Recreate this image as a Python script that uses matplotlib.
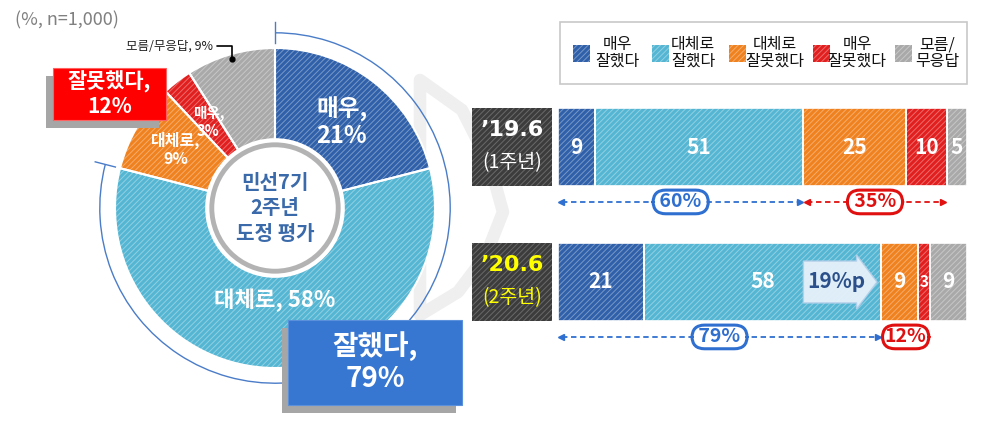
import matplotlib.pyplot as plt
import numpy as np
from matplotlib.patches import Polygon, Circle, Arc, Rectangle
from matplotlib.colors import to_rgb

plt.rcParams['font.family'] = ['Noto Sans CJK KR', 'DejaVu Sans']
plt.rcParams['hatch.linewidth'] = 0.7

# ---- data ----
categories = ['매우\n잘했다', '대체로\n잘했다', '대체로\n잘못했다', '매우\n잘못했다', '모름/\n무응답']
colors = ['#2f60a9', '#55b6d3', '#f0811f', '#e21f1f', '#a9a9a9']
period_years = ['\u201919.6', '\u201920.6']
period_subs = ['(1주년)', '(2주년)']
bar_2019 = [9, 51, 25, 10, 5]
bar_2020 = [21, 58, 9, 3, 9]
pie_values = bar_2020
pie_labels = ['매우,\n21%', '대체로, 58%', '대체로,\n9%', '매우,\n3%', '모름/무응답, 9%']
good_total = sum(pie_values[:2])
bad_total = sum(pie_values[2:4])


def tint(c, k=0.35):
    r, g, b = to_rgb(c)
    return (r + (1 - r) * k, g + (1 - g) * k, b + (1 - b) * k)


fig = plt.figure(figsize=(10, 4.24), dpi=100)

# background layer (pixel coords)
bg = fig.add_axes([0, 0, 1, 1])
bg.set_xlim(0, 1000)
bg.set_ylim(424, 0)
bg.axis('off')
bg.add_patch(Polygon([(420, 80), (462, 110), (490, 165), (503, 212), (486, 255),
                      (458, 292), (420, 315)], closed=True, facecolor='white',
                     edgecolor='#efefef', lw=9, joinstyle='round'))
bg.text(15, 20, '(%, n=1,000)', fontsize=13, color='#808080', va='center', ha='left')

# ---- donut ----
pax = fig.add_axes([0.075, 16 / 424, 0.4, 400 / 424])
wedges, _ = pax.pie(pie_values, colors=colors, startangle=90, counterclock=False,
                    radius=1, wedgeprops=dict(width=0.57, linewidth=0))
for w, c in zip(wedges, colors):
    w.set_edgecolor(tint(c))
    w.set_hatch('//////')
    w.set_linewidth(0)
pax.pie(pie_values, startangle=90, counterclock=False, radius=1,
        wedgeprops=dict(width=0.57, fill=False, edgecolor='white', linewidth=1.5))
pax.set_xlim(-1.25, 1.25)
pax.set_ylim(-1.25, 1.25)
pax.set_aspect('equal')
pax.axis('off')

pax.add_patch(Circle((0, 0), 0.43, facecolor='white', edgecolor='none', zorder=3))
pax.add_patch(Circle((0, 0), 0.395, facecolor='white', edgecolor='#b3b3b3', lw=3.5, zorder=4))
pax.text(0, 0, '민선7기\n2주년\n도정 평가', ha='center', va='center', fontsize=14.5,
         fontweight='bold', color='#3b6aaa', linespacing=1.25, zorder=5)

# outer bracket arc around the "good" share
arc_end = 90 - good_total / 100 * 360
pax.add_patch(Arc((0, 0), 2.19, 2.19, theta1=arc_end, theta2=90, color='#4a7cc8',
                  lw=1.0, clip_on=False))
for ang in (90, arc_end):
    a = np.radians(ang)
    pax.plot([1.03 * np.cos(a), 1.16 * np.cos(a)], [1.03 * np.sin(a), 1.16 * np.sin(a)],
             color='#4a7cc8', lw=1.0, clip_on=False)

cum = np.cumsum([0] + list(pie_values))
label_r = [0.68, 0.58, 0.72, 0.68]
label_fs = [17, 16, 11.5, 10.5]
for i in range(4):
    mid = np.radians(90 - (cum[i] + pie_values[i] / 2) / 100 * 360)
    pax.text(label_r[i] * np.cos(mid), label_r[i] * np.sin(mid), pie_labels[i],
             ha='center', va='center', fontsize=label_fs[i], fontweight='bold',
             color='white', linespacing=1.1, zorder=5)
mid = np.radians(90 - (cum[4] + pie_values[4] / 2) / 100 * 360)
px, py = 0.97 * np.cos(mid), 0.97 * np.sin(mid)
pax.plot([px], [py], marker='o', ms=3.5, color='black', zorder=6)
pax.annotate(pie_labels[4], xy=(px, py), xytext=(px - 0.12, py + 0.08),
             ha='right', va='center', fontsize=9, color='#222222',
             arrowprops=dict(arrowstyle='-', lw=1.2, color='black', shrinkA=1, shrinkB=0,
                             connectionstyle='angle,angleA=0,angleB=90,rad=0'))

# ---- stacked bars ----
bax = fig.add_axes([0.558, (424 - 321) / 424, 0.409, 213 / 424])
rows = [bar_2019, bar_2020]
h = 78 / 135
for r, vals in enumerate(rows):
    left = np.cumsum([0] + vals[:-1])
    bars = bax.barh([r] * len(vals), vals, left=left, height=h, color=colors, linewidth=0)
    for b, c in zip(bars, colors):
        b.set_edgecolor(tint(c))
        b.set_hatch('//////')
        b.set_linewidth(0)
    bax.barh([r] * len(vals), vals, left=left, height=h, fill=False,
             edgecolor='white', linewidth=1.2)
    for v, l in zip(vals, left):
        bax.text(l + v / 2, r, str(v), ha='center', va='center', color='white',
                 fontweight='bold', fontsize=15 if v >= 5 else 11)
bax.set_xlim(0, 100)
bax.set_ylim(1 + h / 2, -h / 2)
bax.axis('off')


def span(y, x0, x1, color, label, arrows=True):
    if arrows:
        bax.plot([x0 + 1, x1 - 1], [y, y], ls=(0, (3, 2)), lw=1.3, color=color, clip_on=False)
        bax.plot([x0 + 0.8], [y], marker='<', ms=5, color=color, clip_on=False)
        bax.plot([x1 - 0.8], [y], marker='>', ms=5, color=color, clip_on=False)
    bax.text((x0 + x1) / 2, y, label, ha='center', va='center', fontsize=14,
             fontweight='bold', color=color,
             bbox=dict(boxstyle='round,pad=0.12,rounding_size=0.65', fc='white', ec=color, lw=2.2),
             linespacing=1.0)


off = h / 2 + 0.118
g19, b19 = sum(bar_2019[:2]), sum(bar_2019[2:4])
g20, b20 = sum(bar_2020[:2]), sum(bar_2020[2:4])
span(off, 0, g19, '#2f6fd0', f' {g19}% ')
span(off, g19, g19 + b19, '#e01010', f' {b19}% ')
span(1 + off, 0, g20, '#2f6fd0', f' {g20}% ')
span(1 + off, g20, g20 + b20, '#e01010', f'{b20}%', arrows=False)

# change arrow
x0, x1 = g19, g20 - 1
bh, hh, hl = 0.155, 0.2, 5
bax.add_patch(Polygon([(x0, 1 - bh), (x1 - hl, 1 - bh), (x1 - hl, 1 - hh), (x1, 1),
                       (x1 - hl, 1 + hh), (x1 - hl, 1 + bh), (x0, 1 + bh)], closed=True,
                      facecolor='#e6f1fa', edgecolor='#b5d0ea', lw=1, alpha=0.95, zorder=4))
bax.text(x0 + (x1 - hl - x0) / 2 + 1.5, 1, f'{g20 - g19}%p', ha='center', va='center',
         fontsize=15, fontweight='bold', color='#2b4f8a', zorder=5)

# ---- overlay: legend, period boxes and summary callouts ----
top = fig.add_axes([0, 0, 1, 1])
top.set_xlim(0, 1000)
top.set_ylim(424, 0)
top.axis('off')
top.patch.set_alpha(0)

# legend (drawn by hand for centred two-line labels)
top.add_patch(Rectangle((560, 22), 407, 62, facecolor='white', edgecolor='#c8c8c8', lw=1.2))
swatch_x = [573, 652, 729, 813, 895]
text_x = [617, 693, 775, 857, 937]
for c, lab, sx, tx in zip(colors, categories, swatch_x, text_x):
    top.add_patch(Rectangle((sx, 45), 17, 17, facecolor=c, edgecolor=tint(c),
                            hatch='//////', lw=0))
    top.text(tx, 53, lab, ha='center', va='center', fontsize=11.5, color='#111111',
             linespacing=0.95, multialignment='center')

for i, (yr, sub) in enumerate(zip(period_years, period_subs)):
    y0 = 108 + i * 135
    top.add_patch(Rectangle((472, y0), 80, 78, facecolor='#3c3c3c', edgecolor='#6a6a6a',
                            hatch='//////', lw=0))
    col = 'white' if i == 0 else '#ffff00'
    top.text(512, y0 + 22, yr, ha='center', va='center', fontsize=16, fontweight='bold',
             color=col, family=['DejaVu Sans'])
    top.text(512, y0 + 55, sub, ha='center', va='center', fontsize=14, color=col)

# bad box
top.add_patch(Rectangle((46, 76), 113, 52, facecolor='#a6a6a6', lw=0))
top.add_patch(Rectangle((53, 68), 113, 52, facecolor='#ff0000', edgecolor='#ff6060', lw=0.8))
top.text(109.5, 94, f'잘못했다,\n{bad_total}%', ha='center', va='center', fontsize=15,
         fontweight='bold', color='white', linespacing=1.15)

# good box
top.add_patch(Rectangle((282, 328), 174, 85, facecolor='#a6a6a6', lw=0))
top.add_patch(Rectangle((288, 320), 174, 85, facecolor='#3877d1', edgecolor='#5a90dc', lw=0.8))
top.text(375, 362, f'잘했다,\n{good_total}%', ha='center', va='center', fontsize=20,
         fontweight='bold', color='white', linespacing=1.15)

fig.savefig('out.png', dpi=100)
